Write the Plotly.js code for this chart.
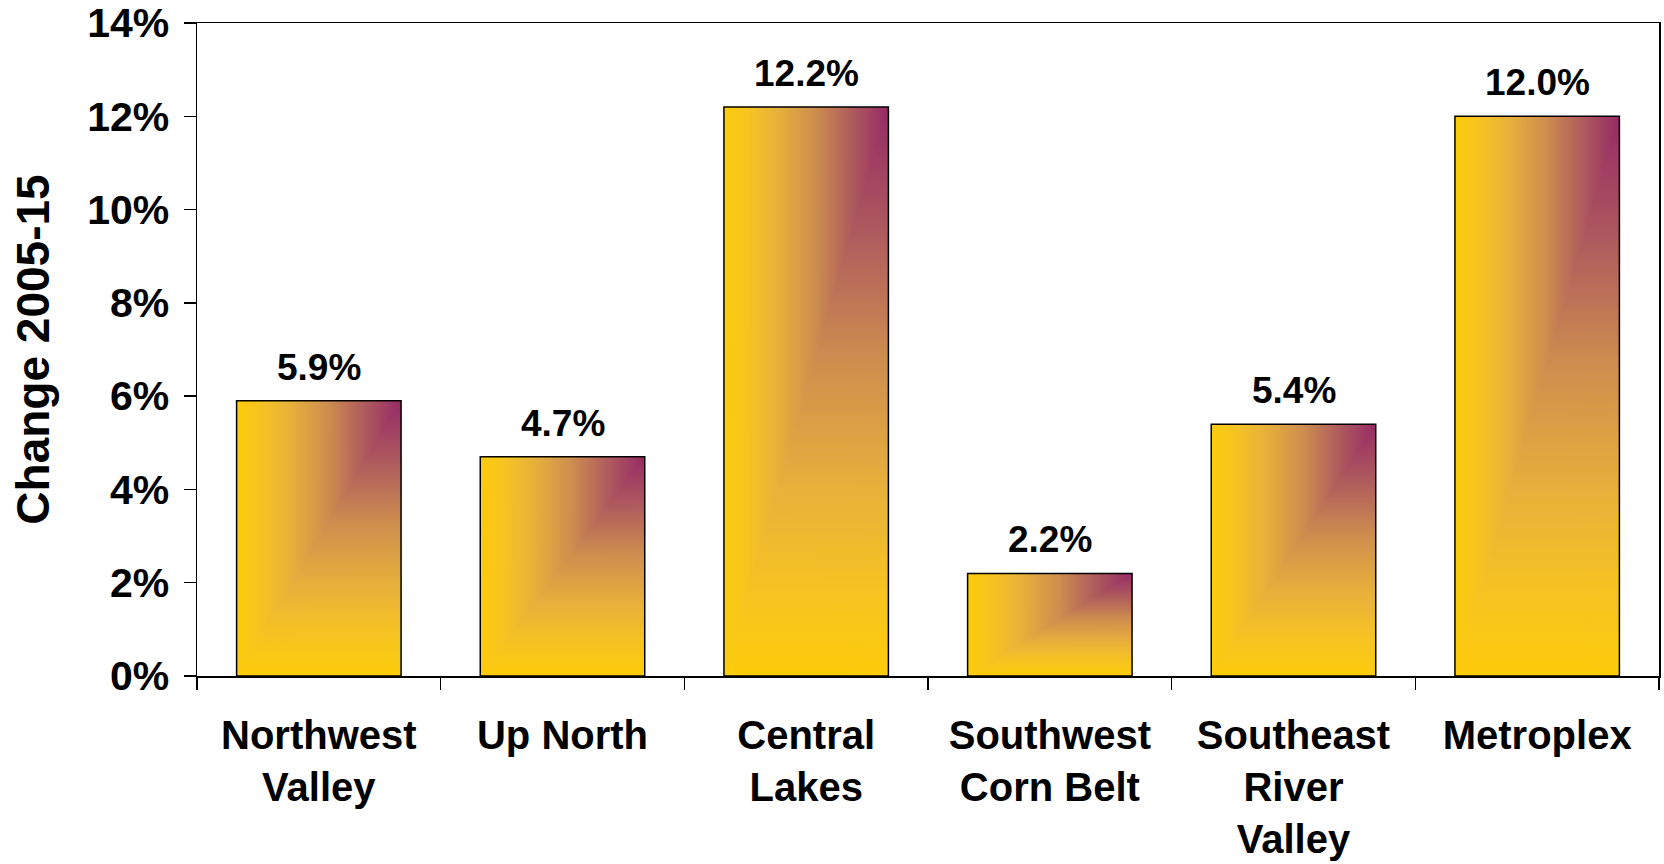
<!DOCTYPE html>
<html>
<head>
<meta charset="utf-8">
<script src="https://cdn.plot.ly/plotly-3.0.1.min.js"></script>
<style>
  html, body { margin: 0; padding: 0; background: #ffffff; }
  #chart { width: 1664px; height: 864px; }
</style>
</head>
<body>
<div id="chart"></div>
<script>
// ---- data ----
const categories = ["Northwest<br>Valley", "Up North", "Central<br>Lakes", "Southwest<br>Corn Belt", "Southeast<br>River<br>Valley", "Metroplex"];
const values = [5.9, 4.7, 12.2, 2.2, 5.4, 12.0];
const valueLabels = ["5.9%", "4.7%", "12.2%", "2.2%", "5.4%", "12.0%"];
const yTickVals = [0, 2, 4, 6, 8, 10, 12, 14];
const yTickText = ["0%", "2%", "4%", "6%", "8%", "10%", "12%", "14%"];

const FONT = "Liberation Sans, Arial, Helvetica, sans-serif";

const trace = {
  type: "bar",
  x: categories,
  y: values,
  marker: { color: "#FCCB0C", line: { color: "#000000", width: 1.5 } },
  hoverinfo: "skip",
  cliponaxis: false
};

const annotations = categories.map((c, i) => ({
  x: c, y: values[i], xref: "x", yref: "y",
  text: valueLabels[i], showarrow: false,
  yanchor: "bottom", yshift: 11,
  font: { family: FONT, size: 37, color: "#000", weight: "bold" }
}));

const layout = {
  width: 1664, height: 864,
  margin: { l: 197, r: 5, t: 23, b: 188 },
  paper_bgcolor: "#ffffff", plot_bgcolor: "#ffffff",
  font: { family: FONT, color: "#000", weight: "bold" },
  bargap: 0.325,
  showlegend: false,
  xaxis: {
    type: "category",
    tickson: "boundaries",
    ticks: "outside", ticklen: 12, tickwidth: 1.5, tickcolor: "#000",
    showline: true, linecolor: "#000", linewidth: 1.5, mirror: true,
    showgrid: false, zeroline: false,
    tickfont: { family: FONT, size: 40, color: "#000", weight: "bold" },
    ticklabelstandoff: 23
  },
  yaxis: {
    range: [0, 14],
    tickvals: yTickVals, ticktext: yTickText,
    ticks: "outside", ticklen: 12, tickwidth: 1.5, tickcolor: "#000",
    showline: true, linecolor: "#000", linewidth: 1.5, mirror: true,
    showgrid: false, zeroline: false,
    tickfont: { family: FONT, size: 41, color: "#000", weight: "bold" },
    ticklabelstandoff: 6,
    title: { text: "Change 2005-15\u00A0", font: { family: FONT, size: 46, color: "#000", weight: "bold" }, standoff: 23 }
  },
  annotations: annotations
};

Plotly.newPlot("chart", [trace], layout, { displayModeBar: false, staticPlot: true }).then(gd => {
  // corner ("from top-right corner") gradient fill for the bars
  const svg = gd.querySelector("svg.main-svg");
  const NS = "http://www.w3.org/2000/svg";
  let defs = svg.querySelector("defs");
  if (!defs) { defs = document.createElementNS(NS, "defs"); svg.insertBefore(defs, svg.firstChild); }
  const stops = [
    [0.00, "#962A66"], [0.22, "#AE5A5E"], [0.45, "#CE8F4E"],
    [0.68, "#E8B23A"], [0.85, "#F6C322"], [1.00, "#FDCC0A"]
  ]; // t = distance from corner (0 = corner, 1 = far edge)
  function lin(id, x1, y1, x2, y2) {
    const g = document.createElementNS(NS, "linearGradient");
    g.setAttribute("id", id);
    g.setAttribute("x1", x1); g.setAttribute("y1", y1);
    g.setAttribute("x2", x2); g.setAttribute("y2", y2);
    stops.forEach(([t, c]) => {
      const s = document.createElementNS(NS, "stop");
      s.setAttribute("offset", t);
      s.setAttribute("stop-color", c);
      g.appendChild(s);
    });
    defs.appendChild(g);
  }
  lin("gH", 1, 0, 0, 0);   // from right edge (corner) to left edge
  lin("gV", 0, 0, 0, 1);   // from top (corner) to bottom
  const pat = document.createElementNS(NS, "pattern");
  pat.setAttribute("id", "cornerFill");
  pat.setAttribute("patternUnits", "objectBoundingBox");
  pat.setAttribute("patternContentUnits", "objectBoundingBox");
  pat.setAttribute("width", 1); pat.setAttribute("height", 1);
  const base = document.createElementNS(NS, "rect");
  base.setAttribute("x", 0); base.setAttribute("y", 0);
  base.setAttribute("width", 1); base.setAttribute("height", 1);
  base.setAttribute("fill", "url(#gV)");
  const tri = document.createElementNS(NS, "polygon");
  tri.setAttribute("points", "0,0 1,0 0,1");
  tri.setAttribute("fill", "url(#gH)");
  pat.appendChild(base); pat.appendChild(tri);
  defs.appendChild(pat);
  gd.querySelectorAll(".trace.bars .point path").forEach(p => {
    p.style.fill = "url(#cornerFill)";
  });
});
</script>
</body>
</html>
